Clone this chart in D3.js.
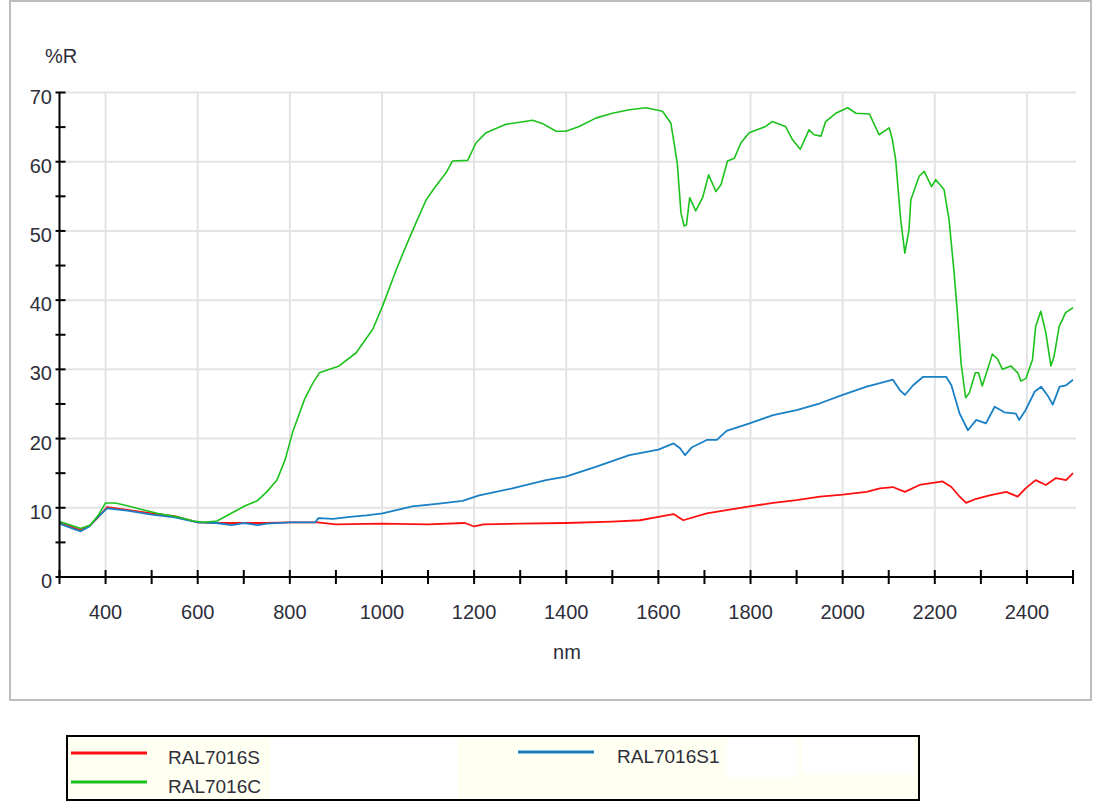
<!DOCTYPE html>
<html>
<head>
<meta charset="utf-8">
<script src="https://cdn.jsdelivr.net/npm/d3@7"></script>
<style>
  body { margin: 0; background: #fff; }
  text { font-family: "Liberation Sans", Arial, sans-serif; fill: #2e2e3a; }
</style>
</head>
<body>
<svg id="chart" width="1097" height="803"></svg>
<script>
// wavelength (nm) / reflectance (%R) pairs
const redData = [[300,7.9],[320,7.4],[343,6.8],[365,7.4],[385,8.7],[403,10.1],[447,9.7],[500,9.2],[550,8.8],[600,7.9],
  [650,7.8],[700,7.8],[750,7.8],[800,7.9],[860,7.9],[900,7.6],[1000,7.7],[1100,7.6],[1180,7.8],[1200,7.3],[1220,7.6],
  [1300,7.7],[1400,7.8],[1500,8.0],[1560,8.2],[1600,8.7],[1633,9.1],[1654,8.2],[1705,9.2],[1798,10.2],[1849,10.7],
  [1900,11.1],[1951,11.6],[2000,11.9],[2052,12.3],[2081,12.8],[2109,13.0],[2135,12.3],[2167,13.3],[2217,13.8],
  [2236,13.0],[2254,11.6],[2268,10.7],[2290,11.3],[2319,11.8],[2355,12.3],[2380,11.6],[2397,12.8],[2419,14.0],
  [2441,13.3],[2463,14.3],[2485,14.0],[2500,15.0]];

const blueData = [[300,7.7],[320,7.2],[346,6.6],[365,7.3],[382,8.6],[403,9.9],[447,9.6],[500,9.0],[550,8.6],[600,7.9],
  [640,7.8],[674,7.5],[700,7.8],[730,7.5],[750,7.7],[800,7.9],[855,7.9],[862,8.5],[894,8.4],[930,8.7],[966,8.9],
  [1001,9.2],[1066,10.2],[1124,10.6],[1175,11.0],[1211,11.8],[1283,12.8],[1356,14.0],[1399,14.5],[1464,15.9],
  [1537,17.6],[1560,17.9],[1600,18.4],[1633,19.3],[1647,18.6],[1658,17.6],[1672,18.7],[1705,19.8],[1727,19.8],
  [1748,21.1],[1798,22.2],[1849,23.4],[1900,24.1],[1951,25.1],[2000,26.3],[2052,27.5],[2081,28.0],[2109,28.5],
  [2124,27.0],[2135,26.3],[2153,27.7],[2174,28.9],[2200,28.9],[2225,28.9],[2236,27.7],[2254,23.6],[2272,21.2],
  [2290,22.7],[2311,22.2],[2330,24.6],[2351,23.8],[2376,23.6],[2383,22.7],[2397,24.1],[2417,26.8],[2431,27.5],
  [2446,26.1],[2456,24.9],[2471,27.5],[2485,27.7],[2500,28.5]];

const greenData = [[300,8.0],[320,7.6],[346,7.0],[367,7.5],[385,9.0],[400,10.7],[421,10.7],[447,10.3],[476,9.8],
  [512,9.2],[555,8.7],[591,8.1],[613,7.9],[642,8.1],[678,9.4],[703,10.3],[729,11.0],[750,12.3],[772,14.0],[790,17.0],
  [806,20.9],[832,25.7],[850,28.0],[864,29.5],[907,30.5],[944,32.4],[980,35.8],[1001,39.1],[1031,44.4],[1052,47.8],
  [1074,51.2],[1096,54.5],[1117,56.5],[1139,58.4],[1153,60.1],[1186,60.2],[1204,62.7],[1226,64.2],[1269,65.4],
  [1327,66.0],[1349,65.5],[1378,64.4],[1399,64.4],[1428,65.1],[1464,66.3],[1500,67.0],[1537,67.5],[1573,67.8],
  [1609,67.3],[1627,65.6],[1641,59.8],[1649,52.6],[1656,50.7],[1661,50.9],[1668,54.8],[1681,52.9],[1696,54.8],
  [1709,58.1],[1725,55.7],[1736,56.7],[1750,60.1],[1765,60.5],[1779,62.7],[1797,64.2],[1833,65.1],[1847,65.8],
  [1876,65.1],[1891,63.2],[1908,61.8],[1927,64.6],[1938,63.9],[1953,63.7],[1963,65.8],[1985,67.0],[2011,67.8],
  [2029,67.0],[2058,66.9],[2079,63.9],[2101,64.9],[2108,63.2],[2115,60.3],[2126,51.6],[2135,46.8],[2144,50.2],
  [2148,54.5],[2166,57.9],[2177,58.6],[2193,56.4],[2202,57.4],[2220,56.0],[2231,51.6],[2242,43.9],[2249,38.2],
  [2257,30.9],[2267,25.9],[2275,26.6],[2288,29.5],[2295,29.5],[2303,27.6],[2325,32.2],[2336,31.5],[2347,30.0],
  [2365,30.5],[2380,29.5],[2387,28.3],[2398,28.7],[2412,31.4],[2419,36.2],[2430,38.4],[2441,35.3],[2452,30.5],
  [2459,31.9],[2470,36.2],[2484,38.2],[2500,38.9]];

const xLabels = [400, 600, 800, 1000, 1200, 1400, 1600, 1800, 2000, 2200, 2400];
const yLabels = [0, 10, 20, 30, 40, 50, 60, 70];

const series = [
  {name: "RAL7016S", data: redData, color: "#ff1010", w: 1.8},
  {name: "RAL7016S1", data: blueData, color: "#1a80c6", w: 1.8},
  {name: "RAL7016C", data: greenData, color: "#1cc21c", w: 1.6}
];

const svg = d3.select("#chart");

// outer panel
svg.append("rect")
  .attr("x", 10).attr("y", 1)
  .attr("width", 1081).attr("height", 699)
  .attr("fill", "#fff")
  .attr("stroke", "#bdbdbd")
  .attr("stroke-width", 2);

const x = d3.scaleLinear().domain([300, 2500]).range([59.5, 1073]);
const y = d3.scaleLinear().domain([0, 70]).range([577, 92.5]);

// grid
const grid = svg.append("g");
grid.selectAll(".vg").data(xLabels).enter().append("line")
  .attr("x1", d => x(d)).attr("x2", d => x(d))
  .attr("y1", y(70)).attr("y2", y(0))
  .attr("stroke", "#e3e3e3").attr("stroke-width", 2);
grid.selectAll(".hg").data(yLabels.filter(d => d > 0)).enter().append("line")
  .attr("x1", x(300)).attr("x2", x(2500) + 3)
  .attr("y1", d => y(d)).attr("y2", d => y(d))
  .attr("stroke", "#e3e3e3").attr("stroke-width", 2);

// curves
const line = d3.line()
  .x(d => x(d[0]))
  .y(d => y(d[1]));

svg.append("g").selectAll("path")
  .data(series).enter().append("path")
  .attr("d", d => line(d.data))
  .attr("fill", "none")
  .attr("stroke", d => d.color)
  .attr("stroke-width", d => d.w)
  .attr("stroke-linejoin", "round");

// axes: ticks cross the axis line
const axisG = svg.append("g").attr("stroke", "#000").attr("stroke-width", 2);
axisG.append("line").attr("x1", x(300)).attr("x2", x(2500)).attr("y1", y(0)).attr("y2", y(0));
axisG.append("line").attr("x1", x(300)).attr("x2", x(300)).attr("y1", y(0)).attr("y2", y(70));

axisG.selectAll(".xt").data(d3.range(300, 2501, 100)).enter().append("line")
  .attr("x1", d => x(d)).attr("x2", d => x(d))
  .attr("y1", y(0) - 7).attr("y2", y(0) + 7);
axisG.selectAll(".yt").data(d3.range(0, 71, 5)).enter().append("line")
  .attr("x1", x(300) - 4).attr("x2", x(300) + 6)
  .attr("y1", d => y(d)).attr("y2", d => y(d));

svg.append("g").selectAll("text").data(xLabels).enter().append("text")
  .attr("x", d => x(d)).attr("y", y(0) + 42)
  .attr("text-anchor", "middle")
  .attr("font-size", 20)
  .text(d => d);

svg.append("g").selectAll("text").data(yLabels).enter().append("text")
  .attr("x", 52).attr("y", d => y(d) + 11)
  .attr("text-anchor", "end")
  .attr("font-size", 20)
  .text(d => d);

svg.append("text").attr("x", 45).attr("y", 63).attr("font-size", 20).text("%R");
svg.append("text").attr("x", 567).attr("y", 659).attr("text-anchor", "middle").attr("font-size", 20).text("nm");

// legend
const legend = svg.append("g");
legend.append("rect")
  .attr("x", 67).attr("y", 736)
  .attr("width", 852).attr("height", 64)
  .attr("fill", "#fffff2")
  .attr("stroke", "#000").attr("stroke-width", 2);
// white patches seen inside the legend box
[[270, 738, 82, 61], [352, 738, 106, 61], [727, 738, 70, 39], [802, 738, 112, 35]].forEach(r => {
  legend.append("rect").attr("x", r[0]).attr("y", r[1]).attr("width", r[2]).attr("height", r[3]).attr("fill", "#fff");
});

const legendItems = [
  {s: series[0], lx: 71, ly: 753},
  {s: series[2], lx: 71, ly: 782},
  {s: series[1], lx: 518, ly: 752}
];
legend.selectAll(".li").data(legendItems).enter().append("line")
  .attr("x1", d => d.lx).attr("x2", d => d.lx + 76)
  .attr("y1", d => d.ly).attr("y2", d => d.ly)
  .attr("stroke", d => d.s.color).attr("stroke-width", 3);
legend.selectAll(".lt").data(legendItems).enter().append("text")
  .attr("x", d => d.lx < 200 ? 168 : 617)
  .attr("y", d => d.ly + 11)
  .attr("font-size", 19)
  .text(d => d.s.name);
</script>
</body>
</html>
